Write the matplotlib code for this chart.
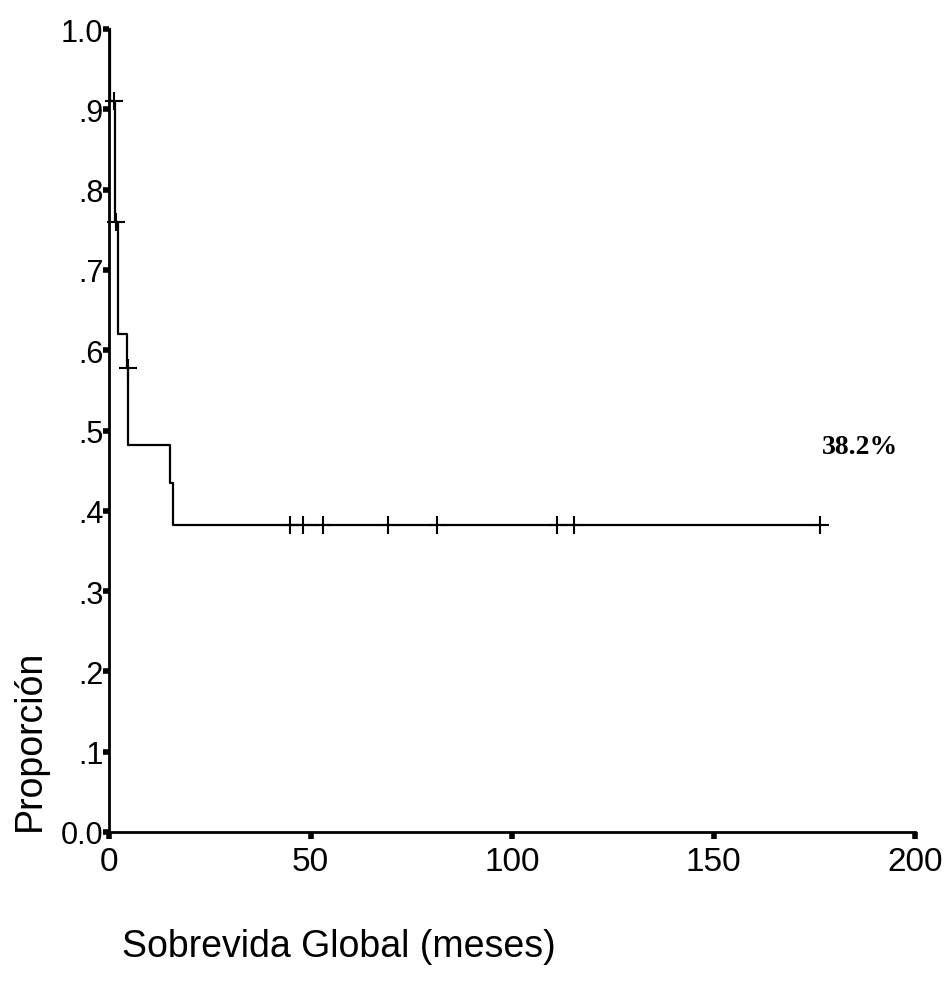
import numpy as np
import matplotlib.pyplot as plt

# Kaplan-Meier steps (months, proportion surviving)
step_times = [0, 0.3, 1.5, 2.3, 4.5, 4.8, 15.1, 16.0]
step_surv = [1.0, 0.91, 0.76, 0.62, 0.578, 0.482, 0.435, 0.382]
# censored cases (months)
censor_times = [1.3, 1.7, 4.7, 44.9, 48.1, 53.1, 69.2, 81.3, 111.1, 115.3, 176.4]
final_label = '38.2%'

x_ticks = [0, 50, 100, 150, 200]
y_ticks = [0.0, 0.1, 0.2, 0.3, 0.4, 0.5, 0.6, 0.7, 0.8, 0.9, 1.0]
y_tick_labels = ['0.0', '.1', '.2', '.3', '.4', '.5', '.6', '.7', '.8', '.9', '1.0']

plt.rcParams['font.family'] = ['Liberation Sans', 'DejaVu Sans']

fig = plt.figure(figsize=(9.49, 9.87), dpi=100)
ax = fig.add_axes([109 / 949, 1 - 833 / 987, 806 / 949, 803 / 987])

t = np.array(step_times + [censor_times[-1]])
s = np.array(step_surv + [step_surv[-1]])
ax.step(t, s, where='post', color='black', lw=1.6, clip_on=False)

idx = np.searchsorted(step_times, censor_times, side='right') - 1
cs = np.array(step_surv)[idx]
ax.plot(censor_times, cs, linestyle='none', marker='+', ms=13, mew=1.5,
        color='black', clip_on=False)

ax.text(177, 0.48, final_label, family='Liberation Serif', fontweight='bold',
        fontsize=20, ha='left', va='center')

ax.set_xlim(0, 200)
ax.set_ylim(0, 1.0)
ax.set_xticks(x_ticks)
ax.set_yticks(y_ticks)
ax.set_yticklabels(y_tick_labels)
for sp in ['top', 'right']:
    ax.spines[sp].set_visible(False)
for sp in ['left', 'bottom']:
    ax.spines[sp].set_linewidth(2.0)
ax.tick_params(axis='x', length=5, width=4, pad=5, labelsize=24)
ax.tick_params(axis='y', length=4, width=4, pad=0, labelsize=22)

fig.text(30 / 949, 1 - 740 / 987, 'Proporción', rotation=90, fontsize=27,
         ha='center', va='center')
fig.text(122 / 949, 1 - 947 / 987, 'Sobrevida Global (meses)', fontsize=27,
         ha='left', va='center')

fig.savefig('out.png', dpi=100, facecolor='white')
